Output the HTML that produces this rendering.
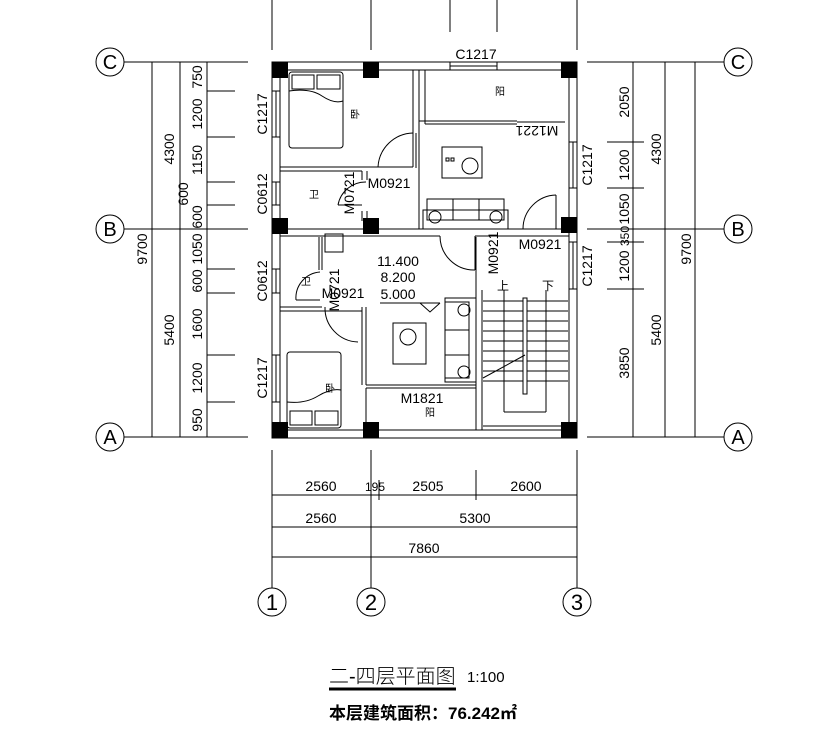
<!DOCTYPE html>
<html><head><meta charset="utf-8"><style>
html,body{margin:0;padding:0;background:#fff}
svg{display:block}
text{font-family:"Liberation Sans","Noto Sans CJK SC",sans-serif;fill:#000}
</style></head><body>
<svg width="816" height="748" viewBox="0 0 816 748" xmlns="http://www.w3.org/2000/svg">
<g stroke="#000" stroke-width="1" fill="none">
<line x1="272" y1="0" x2="272" y2="50"/><line x1="371" y1="0" x2="371" y2="50"/>
<line x1="450" y1="0" x2="450" y2="32"/><line x1="497" y1="0" x2="497" y2="32"/>
<line x1="577" y1="0" x2="577" y2="50"/>
<line x1="124" y1="62" x2="248" y2="62"/><line x1="124" y1="229" x2="248" y2="229"/><line x1="124" y1="437" x2="248" y2="437"/>
<line x1="152" y1="62" x2="152" y2="437"/><line x1="180" y1="62" x2="180" y2="437"/><line x1="207" y1="62" x2="207" y2="437"/>
<line x1="207" y1="91" x2="235" y2="91"/><line x1="207" y1="137" x2="235" y2="137"/><line x1="207" y1="182" x2="235" y2="182"/>
<line x1="207" y1="205" x2="235" y2="205"/><line x1="207" y1="269" x2="235" y2="269"/><line x1="207" y1="293" x2="235" y2="293"/>
<line x1="207" y1="355" x2="235" y2="355"/><line x1="207" y1="402" x2="235" y2="402"/>
<circle cx="110" cy="62" r="14"/><circle cx="110" cy="229" r="14"/><circle cx="110" cy="437" r="14"/>
<line x1="587" y1="62" x2="724" y2="62"/><line x1="587" y1="229" x2="724" y2="229"/><line x1="587" y1="437" x2="724" y2="437"/>
<line x1="633" y1="62" x2="633" y2="437"/><line x1="665" y1="62" x2="665" y2="437"/><line x1="695" y1="62" x2="695" y2="437"/>
<line x1="607" y1="142" x2="644" y2="142"/><line x1="607" y1="188" x2="644" y2="188"/>
<line x1="607" y1="242" x2="644" y2="242"/><line x1="607" y1="289" x2="644" y2="289"/>
<circle cx="738" cy="62" r="14"/><circle cx="738" cy="229" r="14"/><circle cx="738" cy="437" r="14"/>
<line x1="272" y1="450" x2="272" y2="588"/><line x1="371" y1="450" x2="371" y2="588"/><line x1="577" y1="450" x2="577" y2="588"/>
<line x1="379" y1="480" x2="379" y2="500"/><line x1="476" y1="470" x2="476" y2="500"/>
<line x1="272" y1="495" x2="577" y2="495"/><line x1="272" y1="527" x2="577" y2="527"/><line x1="272" y1="557" x2="577" y2="557"/>
<circle cx="272" cy="602" r="14"/><circle cx="371" cy="602" r="14"/><circle cx="577" cy="602" r="14"/>

<rect x="272" y="62" width="305" height="376"/>
<line x1="280" y1="70" x2="280" y2="430"/>
<line x1="569" y1="70" x2="569" y2="430"/>
<line x1="280" y1="70" x2="569" y2="70"/>
<line x1="280" y1="430" x2="569" y2="430"/>
<line x1="280" y1="229" x2="569" y2="229"/><line x1="280" y1="236" x2="440" y2="236"/>
<line x1="475" y1="236" x2="569" y2="236"/>
<line x1="280" y1="167" x2="413" y2="167"/><line x1="280" y1="171" x2="362" y2="171"/>
<line x1="413" y1="70" x2="413" y2="167"/><line x1="419" y1="70" x2="419" y2="229"/>
<line x1="416" y1="133" x2="416" y2="168"/>
<path d="M378 167 A36 36 0 0 1 413 133"/>
<rect x="289" y="72" width="54" height="76" rx="3"/>
<rect x="292" y="75" width="22" height="14"/><rect x="317" y="75" width="23" height="14"/>
<path d="M289 91 Q310 88 322 96 T343 101"/>
<line x1="362" y1="171" x2="362" y2="180"/><line x1="367" y1="171" x2="367" y2="180"/>
<line x1="362" y1="211" x2="362" y2="221"/><line x1="367" y1="211" x2="367" y2="221"/>
<path d="M338 205 A28 28 0 0 1 366 182"/><line x1="338" y1="205" x2="362" y2="205"/>
<line x1="419" y1="121" x2="517" y2="121"/><line x1="425" y1="124" x2="517" y2="124"/>
<line x1="425" y1="70" x2="425" y2="124"/>
<line x1="517" y1="122" x2="565" y2="122"/>
<rect x="442" y="147" width="40" height="31"/><circle cx="470" cy="166" r="8"/>
<rect x="446" y="158" width="3" height="3"/><rect x="451" y="158" width="3" height="3"/>
<rect x="423" y="210" width="85" height="19"/><rect x="427" y="199" width="77" height="21"/>
<line x1="453" y1="199" x2="453" y2="220"/><line x1="479" y1="199" x2="479" y2="220"/>
<circle cx="435" cy="217" r="6"/><circle cx="496" cy="217" r="6"/>
<path d="M523 229 A34 34 0 0 1 556 195"/><line x1="556" y1="195" x2="556" y2="229"/>
<g stroke-width="1">
<rect x="450" y="62" width="47" height="8"/><line x1="450" y1="66" x2="497" y2="66"/>
<rect x="272" y="91" width="8" height="46"/><line x1="276" y1="91" x2="276" y2="137"/>
<rect x="272" y="182" width="8" height="23"/><line x1="276" y1="182" x2="276" y2="205"/>
<rect x="272" y="269" width="8" height="24"/><line x1="276" y1="269" x2="276" y2="293"/>
<rect x="272" y="355" width="8" height="47"/><line x1="276" y1="355" x2="276" y2="402"/>
<rect x="569" y="142" width="8" height="46"/><line x1="573" y1="142" x2="573" y2="188"/>
<rect x="569" y="242" width="8" height="47"/><line x1="573" y1="242" x2="573" y2="289"/>
</g>
<line x1="322" y1="237" x2="322" y2="270"/><line x1="319" y1="237" x2="319" y2="270"/>
<line x1="280" y1="307" x2="322" y2="307"/><line x1="280" y1="311" x2="362" y2="311"/>
<path d="M296 300 A26 26 0 0 1 320 272"/><line x1="296" y1="300" x2="320" y2="300"/>
<rect x="325" y="234" width="18" height="18"/>
<line x1="362" y1="307" x2="362" y2="385"/><line x1="366" y1="307" x2="366" y2="385"/>
<path d="M325 307 A34 34 0 0 0 358 342"/>
<rect x="287" y="352" width="54" height="76" rx="3"/>
<rect x="290" y="411" width="22" height="14"/><rect x="315" y="411" width="23" height="14"/>
<path d="M287 402 Q305 404 318 396 T341 390"/>
<line x1="366" y1="385" x2="476" y2="385"/><line x1="366" y1="388" x2="476" y2="388"/>
<line x1="366" y1="388" x2="366" y2="430"/>
<line x1="380" y1="303" x2="440" y2="303"/><path d="M420 303 L430 312 L440 303"/>
<rect x="393" y="323" width="33" height="41"/><circle cx="408" cy="337" r="8"/>
<rect x="445" y="298" width="31" height="84"/><rect x="445" y="302" width="24" height="76"/>
<line x1="445" y1="330" x2="469" y2="330"/><line x1="445" y1="355" x2="469" y2="355"/>
<circle cx="464" cy="310" r="6"/><circle cx="464" cy="372" r="6"/>
<line x1="476" y1="237" x2="476" y2="430"/><line x1="482" y1="290" x2="482" y2="430"/>
<path d="M440 236 A34 34 0 0 0 475 270"/><line x1="475" y1="236" x2="475" y2="270"/>
<g>
<line x1="483" y1="301" x2="568" y2="301"/><line x1="483" y1="311" x2="568" y2="311"/><line x1="483" y1="321" x2="568" y2="321"/>
<line x1="483" y1="331" x2="568" y2="331"/><line x1="483" y1="341" x2="568" y2="341"/><line x1="483" y1="351" x2="568" y2="351"/>
<line x1="483" y1="361" x2="568" y2="361"/><line x1="483" y1="371" x2="568" y2="371"/><line x1="483" y1="381" x2="568" y2="381"/>
</g>
<rect x="523" y="298" width="4" height="96" fill="#fff"/>
<line x1="483" y1="378" x2="525" y2="355"/>
<line x1="504" y1="290" x2="504" y2="412"/><line x1="546" y1="290" x2="546" y2="412"/><line x1="504" y1="412" x2="546" y2="412"/>
<line x1="483" y1="426" x2="568" y2="426"/>
</g>
<g fill="#000">
<rect x="272" y="62" width="16" height="16"/><rect x="363" y="62" width="16" height="16"/><rect x="561" y="62" width="16" height="16"/>
<rect x="272" y="218" width="16" height="16"/><rect x="363" y="218" width="16" height="16"/><rect x="561" y="217" width="16" height="16"/>
<rect x="272" y="422" width="16" height="16"/><rect x="363" y="422" width="16" height="16"/><rect x="561" y="422" width="16" height="16"/>
</g>
<g font-size="14" text-anchor="middle">
<text x="110" y="69" font-family="Liberation Serif" font-size="20">C</text>
<text x="110" y="236" font-family="Liberation Serif" font-size="20">B</text>
<text x="110" y="444" font-family="Liberation Serif" font-size="20">A</text>
<text x="738" y="69" font-family="Liberation Serif" font-size="20">C</text>
<text x="738" y="236" font-family="Liberation Serif" font-size="20">B</text>
<text x="738" y="444" font-family="Liberation Serif" font-size="20">A</text>
<text x="272" y="610" font-family="Liberation Serif" font-size="22">1</text>
<text x="371" y="610" font-family="Liberation Serif" font-size="22">2</text>
<text x="577" y="610" font-family="Liberation Serif" font-size="22">3</text>
<text x="321" y="491">2560</text><text x="375" y="491" font-size="12">195</text>
<text x="428" y="491">2505</text><text x="526" y="491">2600</text>
<text x="321" y="523">2560</text><text x="475" y="523">5300</text>
<text x="424" y="553">7860</text>
<text x="476" y="59">C1217</text>
<text x="398" y="266">11.400</text><text x="398" y="282">8.200</text><text x="398" y="299">5.000</text>
<text x="389" y="188">M0921</text>
<text x="343" y="298">M0921</text>
<text x="540" y="249">M0921</text>
<text x="422" y="403">M1821</text>
<text x="537" y="136" transform="rotate(180 537 131)">M1221</text>
<text x="503" y="290" font-size="12">上</text><text x="548" y="290" font-size="12">下</text>
<text x="500" y="95" font-size="10">阳</text><text x="430" y="416" font-size="10">阳</text>
<text x="355" y="118" font-size="10">卧</text><text x="330" y="392" font-size="10">卧</text>
<text x="314" y="198" font-size="10">卫</text><text x="306" y="285" font-size="10">卫</text>
</g>
<g font-size="14" text-anchor="middle">
<text transform="translate(174 149) rotate(-90)">4300</text>
<text transform="translate(147 249) rotate(-90)">9700</text>
<text transform="translate(174 330) rotate(-90)">5400</text>
<text transform="translate(202 77) rotate(-90)">750</text>
<text transform="translate(202 114) rotate(-90)">1200</text>
<text transform="translate(202 160) rotate(-90)">1150</text>
<text transform="translate(188 194) rotate(-90)">600</text>
<text transform="translate(202 217) rotate(-90)">600</text>
<text transform="translate(202 249) rotate(-90)">1050</text>
<text transform="translate(202 281) rotate(-90)">600</text>
<text transform="translate(202 324) rotate(-90)">1600</text>
<text transform="translate(202 378) rotate(-90)">1200</text>
<text transform="translate(202 420) rotate(-90)">950</text>
<text transform="translate(267 114) rotate(-90)">C1217</text>
<text transform="translate(267 194) rotate(-90)">C0612</text>
<text transform="translate(267 281) rotate(-90)">C0612</text>
<text transform="translate(267 378) rotate(-90)">C1217</text>
<text transform="translate(592 165) rotate(-90)">C1217</text>
<text transform="translate(592 266) rotate(-90)">C1217</text>
<text transform="translate(354 193) rotate(-90)">M0721</text>
<text transform="translate(339 290) rotate(-90)">M0721</text>
<text transform="translate(498 253) rotate(-90)">M0921</text>
<text transform="translate(629 102) rotate(-90)">2050</text>
<text transform="translate(629 165) rotate(-90)">1200</text>
<text transform="translate(629 209) rotate(-90)">1050</text>
<text transform="translate(629 236) rotate(-90)" font-size="12">350</text>
<text transform="translate(629 266) rotate(-90)">1200</text>
<text transform="translate(629 363) rotate(-90)">3850</text>
<text transform="translate(661 149) rotate(-90)">4300</text>
<text transform="translate(661 330) rotate(-90)">5400</text>
<text transform="translate(691 249) rotate(-90)">9700</text>
</g>
<text x="329" y="683" font-size="20" font-family="Noto Sans CJK SC,sans-serif" font-weight="300">二-四层平面图</text>
<text x="467" y="682" font-size="15">1:100</text>
<line x1="329" y1="689" x2="456" y2="689" stroke="#000" stroke-width="3"/>
<text x="329" y="719" font-size="17" font-weight="bold" font-family="Noto Sans CJK SC,sans-serif">本层建筑面积：76.242㎡</text>
</svg>
</body></html>
